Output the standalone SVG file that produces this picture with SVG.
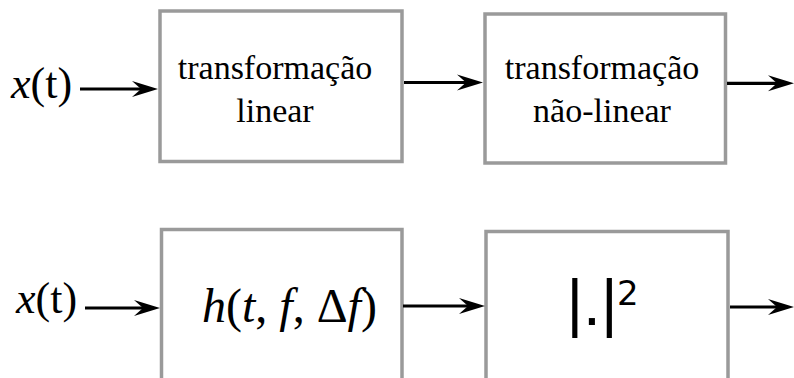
<svg xmlns="http://www.w3.org/2000/svg" width="794" height="378" viewBox="0 0 794 378">
<style>
.box{fill:#fff;stroke:#9a9a9a;stroke-width:3.5}
.lbl{font-family:"Liberation Serif",serif;font-size:34px;fill:#000;text-anchor:middle}
.sig{font-family:"Liberation Serif",serif;font-size:44px;fill:#000}
.it{font-style:italic}
.con line{stroke:#000;stroke-width:3.2;marker-end:url(#ah)}
</style>
<defs>
<marker id="ah" markerUnits="userSpaceOnUse" markerWidth="30" markerHeight="20" refX="16" refY="9" orient="auto">
<path d="M0,1 L26,9 L0,17 L9,9 Z" fill="#000"/>
</marker>
</defs>
<rect width="794" height="378" fill="#fff"/>
<g id="input1"><text class="sig" x="11" y="98"><tspan class="it">x</tspan>(t)</text></g>
<g id="linear"><rect class="box" x="160" y="11" width="242" height="150.5"/>
<text class="lbl" x="275" y="79">transformação</text><text class="lbl" x="275" y="122">linear</text></g>
<g id="nonlinear"><rect class="box" x="485" y="14" width="240.5" height="149"/>
<text class="lbl" x="602" y="79">transformação</text><text class="lbl" x="602" y="122">não-linear</text></g>
<g id="input2"><text class="sig" x="16" y="313"><tspan class="it">x</tspan>(t)</text></g>
<g id="filter"><rect class="box" x="161.5" y="229.5" width="240.5" height="170"/>
<text font-family="Liberation Serif, serif" font-size="48" x="202" y="322"><tspan font-style="italic">h</tspan>(<tspan font-style="italic">t</tspan>, <tspan font-style="italic">f</tspan>, Δ<tspan font-style="italic">f</tspan>)</text></g>
<g id="square"><rect class="box" x="486" y="231.5" width="242" height="170"/>
<text font-family="Liberation Sans, sans-serif" font-size="64" text-anchor="middle" x="592" y="324.5">|.|</text>
<text font-family="DejaVu Sans, sans-serif" font-size="34" x="617" y="305">2</text></g>
<g id="connectors" class="con">
<line x1="80" y1="89" x2="148" y2="89"/>
<line x1="404" y1="82.5" x2="473" y2="82.5"/>
<line x1="727" y1="83.3" x2="784" y2="83.3"/>
<line x1="85" y1="308" x2="150" y2="308"/>
<line x1="403" y1="306" x2="475" y2="306"/>
<line x1="730" y1="307" x2="784" y2="307"/>
</g>
</svg>
